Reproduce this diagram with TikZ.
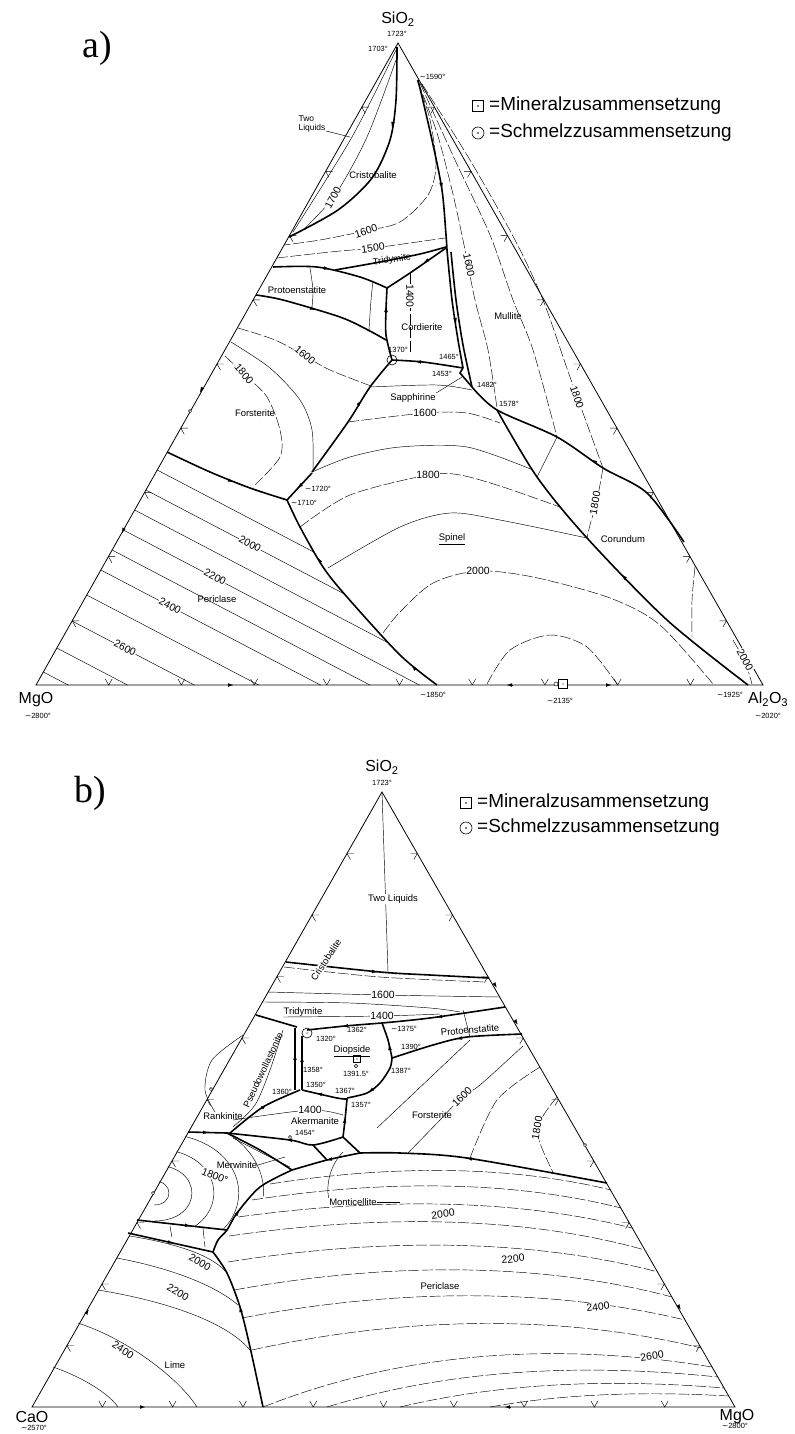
\documentclass[tikz,border=0pt]{standalone}
\usepackage{fontspec}
\setmainfont{Liberation Sans}
\newfontfamily\dejavu{DejaVu Sans}
\newfontfamily\timesf{Liberation Serif}
\usetikzlibrary{arrows.meta}
\newcommand{\ap}{{\dejavu\char"223C}}
% small arrowhead laid along a boundary line
\newcommand{\fallarr}[2]{\draw[line width=0.1bp, -{Latex[length=5bp,width=3.4bp]}] #1 -- #2;}

\tikzset{
  side/.style={line width=0.8bp},
  bnd/.style={line width=1.6bp},
  iso/.style={line width=0.45bp},
  isod/.style={iso, dash pattern=on 11bp off 2.5bp},
  tickmk/.style={line width=0.45bp},
  lbl/.style={font=\fontsize{9.5}{10}\selectfont, inner sep=0.5bp},
  tmp/.style={font=\fontsize{7.5}{8}\selectfont, inner sep=0.3bp},
  isolbl/.style={font=\fontsize{10.5}{11}\selectfont, fill=white, inner sep=0.6bp},
  cmp/.style={font=\fontsize{16}{17}\selectfont, inner sep=0bp},
  leg/.style={font=\fontsize{19}{20}\selectfont, inner sep=0bp, anchor=west},
  part/.style={font=\timesf\fontsize{38}{38}\selectfont, inner sep=0bp},
  mineral/.style={draw, line width=0.6bp, fill=white, minimum size=11bp, inner sep=0bp},
  melt/.style={draw, circle, line width=0.6bp, minimum size=12bp, inner sep=0bp},
}

\begin{document}
\begin{tikzpicture}[x=1bp,y=-1bp]
\path[use as bounding box, fill=white] (0,0) rectangle (794,1434);

%%%%%%%%%%%%%%%%%%%%%%%% a) MgO - Al2O3 - SiO2
\coordinate (aS) at (398,43);
\coordinate (aM) at (36,685);
\coordinate (aA) at (763,685);
\draw[side] (aM) -- (aS) -- (aA) -- cycle;
\foreach \i in {1,...,9}{
\draw[tickmk] ({36+72.7*\i},685) ++(-3.5,-6.1) -- ++(3.5,6.1) -- ++(3.5,-6.1);
\draw[tickmk] ({36+36.2*\i},{685-64.2*\i}) ++(7,0) -- ++(-7,0) -- ++(3.5,6.1);
\draw[tickmk] ({763-36.5*\i},{685-64.2*\i}) ++(-7,0) -- ++(7,0) -- ++(-3.5,6.1);
}
\fallarr{(228,685)}{(233,685)}
\fallarr{(512,685)}{(507,685)}
\fallarr{(606,685)}{(611,685)}
\fallarr{(203,387)}{(200,392)}
\fallarr{(124,528)}{(122,533)}

% two liquids and cristobalite
\draw[iso] plot[smooth] coordinates {(396,50) (352,137) (293,232)};
\draw[iso] plot[smooth] coordinates {(396,60) (367,137) (335,195) (303,230)};
\draw[bnd] plot[smooth] coordinates {(397,47) (396,100) (390,140) (372,178) (338,210) (289,237)};
\fallarr{(393,122)}{(392,127)}
\draw[isod] plot[smooth] coordinates {(417,80) (430,120) (436,165) (428,195) (400,222) (365,231) (320,240) (284,245)};
\draw[isod] plot[smooth] coordinates {(277,258) (330,252) (373,248) (410,243) (445,238)};
\draw[bnd] plot[smooth] coordinates {(418,80) (432,140) (442,190) (446,235) (447,250)};
\fallarr{(441,183)}{(442,188)}

% tridymite, protoenstatite, cordierite
\draw[bnd] plot[smooth] coordinates {(273,267) (317,267) (360,277) (387,288)};
\fallarr{(324,268)}{(329,269)}
\draw[bnd] plot[smooth] coordinates {(335,270) (380,262) (420,254) (446,247)};
\draw[bnd] plot[smooth] coordinates {(446,248) (410,273) (387,288)};
\fallarr{(428,260)}{(424,262.5)}
\draw[bnd] plot[smooth] coordinates {(392,360) (386,335) (386,310) (387,288)};
\fallarr{(386,312)}{(386,307)}
\draw[bnd] plot[smooth] coordinates {(256,295) (283,300) (340,317) (368,330) (386,340)};
\fallarr{(310,308)}{(315,310)}
\draw[iso] plot[smooth] coordinates {(310,268) (313,290) (312,307)};
\draw[iso] plot[smooth] coordinates {(373,281) (371,300) (369,330)};
\draw[isod] (410,273) -- (410,353);
\draw[bnd] plot[smooth] coordinates {(447,250) (452,300) (458,340) (463,368)};
\fallarr{(455,318)}{(456,323)}
\draw[bnd] plot[smooth] coordinates {(451,252) (456,300) (463,345) (472,387)};
\draw[bnd] plot[smooth] coordinates {(392,360) (423,362) (463,368)};
\fallarr{(421,362)}{(416,361.6)}
\draw[bnd] (463,368) -- (460,373) -- (472,387);

% forsterite, spinel, periclase boundaries
\draw[bnd] plot[smooth] coordinates {(392,360) (370,387) (348,422) (312,472)};
\fallarr{(358,405)}{(361,401)}
\draw[bnd] (312,473) -- (287,500);
\fallarr{(301,485)}{(298,488)}
\draw[bnd] plot[smooth] coordinates {(167,452) (210,472) (250,488) (287,500)};
\fallarr{(228,480)}{(233,482)}
\draw[bnd] plot[smooth] coordinates {(287,500) (300,527) (323,567) (347,597) (400,655) (437,685)};
\fallarr{(321,563)}{(318,558)}
\fallarr{(416,670)}{(412,666)}
\draw[bnd] plot[smooth] coordinates {(472,387) (497,410) (557,437) (603,468) (647,493) (684,542)};
\fallarr{(597,463)}{(592,460)}
\draw[bnd] plot[smooth] coordinates {(497,410) (537,477) (587,538) (667,620) (748,685)};
\fallarr{(627,580)}{(622,575)}

% sapphirine
\draw[iso] plot[smooth] coordinates {(370,387) (437,385) (472,390)};

% mullite isotherms
\draw[isod] plot[smooth] coordinates {(418,82) (437,133) (452,190) (463,240) (475,300) (488,350) (497,408)};
\draw[isod] plot[smooth] coordinates {(420,83) (455,160) (490,235) (513,300) (533,350) (557,437)};
\draw[isod] plot[smooth] coordinates {(422,84) (470,160) (515,240) (543,300) (570,377) (603,468)};

% corundum isotherms
\draw[isod] plot[smooth] coordinates {(603,468) (597,500) (590,525) (587,538)};
\draw[iso] (557,437) -- (537,477);
\draw[isod] plot[smooth] coordinates {(695,567) (692,600) (692,637)};
\draw[isod] plot[smooth] coordinates {(733,640) (745,662) (752,684)};

% spinel isotherms
\draw[isod] plot[smooth] coordinates {(348,422) (425,413) (467,413) (500,423)};
\draw[iso] plot[smooth] coordinates {(312,472) (350,457) (400,447) (467,447) (533,470)};
\draw[isod] plot[smooth] coordinates {(300,527) (350,495) (428,475) (460,475) (503,487) (560,507)};
\draw[iso] plot[smooth] coordinates {(328,568) (400,527) (450,513) (500,520) (587,538)};
\draw[isod] plot[smooth] coordinates {(383,633) (400,612) (433,583) (478,571) (533,577) (610,598) (660,625) (713,684)};
\draw[isod] plot[smooth] coordinates {(487,684) (510,650) (550,635) (587,647) (617,684)};

% forsterite isotherms
\draw[isod] plot[smooth] coordinates {(238,328) (275,340) (305,356) (330,370) (371,386)};
\draw[iso] plot[smooth] coordinates {(231,342) (270,368) (300,400) (312,430) (313,470)};
\draw[isod] plot[smooth] coordinates {(225,356) (245,375) (267,397) (280,430) (280,457) (253,487)};

% periclase isotherms
\begin{scope}
\clip (167,452) -- (210,472) -- (250,488) -- (287,500) -- (300,527) -- (323,567) -- (347,597) -- (400,655) -- (437,685) -- (36,685) -- cycle;
\foreach \ys in {470,490,510,530,550,570,595,621,648,672}
\draw[iso] ({398-(\ys-43)*0.5639},\ys) -- ++(420,220);
\end{scope}

% compositions on the sides
\draw[line width=0.5bp, fill=white] (190,411) circle (1.6);
\draw[line width=0.5bp, fill=white] (556,684) circle (2);
\node[mineral, minimum size=9bp] (aSpMin) at (563,684) {};
\fill (aSpMin.center) circle (0.7);
\node[melt, minimum size=10bp] (aMelt) at (392,360) {};
\fill (aMelt.center) circle (0.7);

% labels
\node[part] (aPart) at (97,48) {a)};
\node[cmp] (aSi) at (398,19) {SiO\textsubscript{2}};
\node[tmp] (aT1723) at (397,34) {1723°};
\node[tmp] (aT1703) at (378,49) {1703°};
\node[tmp, anchor=west] (aT1590) at (419,77) {\ap1590°};
\node[cmp, anchor=north] (aMg) at (36,692) {MgO};
\node[tmp, anchor=north] (aT2800) at (38,713) {\ap2800°};
\node[cmp, anchor=north west] (aAl) at (748,692) {Al\textsubscript{2}O\textsubscript{3}};
\node[tmp, anchor=north] (aT2020) at (768,713) {\ap2020°};
\node[tmp] (aT1925) at (730,695) {\ap1925°};
\node[tmp] (aT1850) at (433,695) {\ap1850°};
\node[tmp] (aT2135) at (560,701) {\ap2135°};

\node[lbl, align=left, font=\fontsize{8.5}{9}\selectfont] (aTwo) at (312,124) {Two\\Liquids};
\draw[iso] (aTwo.east |- 0,131) -- (350,137);
\node[lbl] (aCri) at (373,175) {Cristobalite};
\node[lbl, rotate=8] (aTri) at (392,260) {Tridymite};
\node[lbl] (aPro) at (297,290) {Protoenstatite};
\node[lbl] (aCor) at (422,327) {Cordierite};
\node[lbl] (aMul) at (508,316) {Mullite};
\node[lbl] (aFo) at (255,413) {Forsterite};
\node[lbl] (aSap) at (413,398) {Sapphirine};
\draw[iso] (aSap.north east) -- (462,377);
\node[lbl] (aSpi) at (452,539) {\underline{Spinel}};
\node[lbl] (aCrn) at (623,539) {Corundum};
\node[lbl] (aPer) at (217,599) {Periclase};

\node[tmp] (aT1370) at (398,350) {1370°};
\node[tmp] (aT1465) at (449,357) {1465°};
\node[tmp] (aT1453) at (442,374) {1453°};
\node[tmp] (aT1482) at (487,385) {1482°};
\node[tmp] (aT1578) at (509,404) {1578°};
\node[tmp] (aT1720) at (318,489) {\ap1720°};
\node[tmp] (aT1710) at (304,503) {\ap1710°};

\node[isolbl, rotate=62] (aI1700) at (333,198) {1700};
\node[isolbl, rotate=18] (aI1600a) at (366,231) {1600};
\node[isolbl, rotate=8] (aI1500) at (373,248) {1500};
\node[isolbl, rotate=-90] (aI1400) at (410,296) {1400};
\node[isolbl, rotate=-78] (aI1600b) at (469,265) {1600};
\node[isolbl, rotate=-72] (aI1800a) at (577,397) {1800};
\node[isolbl, rotate=80] (aI1800b) at (595,503) {1800};
\node[isolbl, rotate=-62] (aI2000a) at (745,660) {2000};
\node[isolbl, rotate=-40] (aI1600c) at (305,355) {1600};
\node[isolbl, rotate=-50] (aI1800c) at (244,374) {1800};
\node[isolbl] (aI1600d) at (425,413) {1600};
\node[isolbl] (aI1800d) at (428,475) {1800};
\node[isolbl] (aI2000b) at (478,571) {2000};
\node[isolbl, rotate=-27.6] (aI2000c) at (250,544) {2000};
\node[isolbl, rotate=-27.6] (aI2200) at (215,577) {2200};
\node[isolbl, rotate=-27.6] (aI2400) at (170,606) {2400};
\node[isolbl, rotate=-27.6] (aI2600) at (125,648) {2600};

% legend
\node[mineral] (aLegMin) at (478,106) {};
\fill (aLegMin.center) circle (0.8);
\node[leg] (aLegMinT) at (489,106) {=Mineralzusammensetzung};
\node[melt] (aLegMelt) at (478,133) {};
\fill (aLegMelt.center) circle (0.8);
\node[leg] (aLegMeltT) at (489,133) {=Schmelzzusammensetzung};

%%%%%%%%%%%%%%%%%%%%%%%% b) CaO - MgO - SiO2
\coordinate (bS) at (382,792);
\coordinate (bC) at (32,1407);
\coordinate (bM) at (735,1407);
\draw[side] (bC) -- (bS) -- (bM) -- cycle;
\foreach \i in {1,...,9}{
\draw[tickmk] ({32+70.3*\i},1407) ++(-3.5,-6.1) -- ++(3.5,6.1) -- ++(3.5,-6.1);
\draw[tickmk] ({32+35*\i},{1407-61.5*\i}) ++(7,0) -- ++(-7,0) -- ++(3.5,6.1);
\draw[tickmk] ({735-35.3*\i},{1407-61.5*\i}) ++(-7,0) -- ++(7,0) -- ++(-3.5,6.1);
}
\fallarr{(140,1407)}{(145,1407)}
\fallarr{(510,1407)}{(505,1407)}
\fallarr{(86,1314)}{(88.5,1309.5)}
\fallarr{(678,1305)}{(680.5,1309.5)}
\fallarr{(494,983)}{(496.5,987.5)}
\fallarr{(515,1020)}{(517.5,1024.5)}

% two liquids, cristobalite, tridymite
\draw[iso] (bS) -- (388,972);
\draw[bnd] plot[smooth] coordinates {(286,962) (380,972) (430,975) (489,978)};
\fallarr{(372,971.5)}{(377,972)}
\draw[isod] plot[smooth] coordinates {(284,967) (380,977) (486,982)};
\draw[iso] plot[smooth] coordinates {(268,992) (383,995) (500,997)};
\draw[iso] plot[smooth] coordinates {(263,1002) (350,1003) (430,1008) (460,1012)};
\draw[iso] plot[smooth] coordinates {(283,1017) (382,1016) (440,1014)};
\draw[bnd] (256,1015) -- (297,1027);
\draw[bnd] plot[smooth] coordinates {(382,1023) (345,1026) (307,1030)};
\fallarr{(348,1025.8)}{(343,1026.2)}
\draw[bnd] plot[smooth] coordinates {(505,1007) (430,1018) (382,1023)};
\fallarr{(442,1016.5)}{(437,1017.2)}

% diopside and pseudowollastonite
\draw[bnd] (295,1028) -- (295,1090);
\draw[bnd] (302,1090) -- (302,1036);
\fallarr{(302,1062)}{(302,1057)}
\fallarr{(295,1060)}{(295,1055)}
\draw[bnd] plot[smooth] coordinates {(382,1023) (388,1040) (392,1058)};
\fallarr{(390,1050)}{(389,1045)}
\draw[bnd] plot[smooth] coordinates {(522,1034) (467,1037) (433,1045) (392,1058)};
\fallarr{(462,1038)}{(457,1039)}
\draw[bnd] plot[smooth] coordinates {(392,1058) (390,1068) (380,1083) (367,1093) (347,1098)};
\fallarr{(373,1089)}{(369,1092)}
\draw[bnd] plot[smooth] coordinates {(347,1099) (337,1098) (302,1090)};
\fallarr{(322,1094.5)}{(317,1093.4)}
\draw[bnd] plot[smooth] coordinates {(343,1137) (345,1120) (347,1099)};
\fallarr{(344.5,1123)}{(345,1118)}
\draw[bnd] plot[smooth] coordinates {(230,1133) (263,1107) (300,1090)};
\fallarr{(262,1108)}{(266,1105)}
\draw[iso] (463,1010) -- (470,1037);
\draw[iso] plot[smooth] coordinates {(243,1035) (212,1060) (205,1090) (215,1112)};
\draw[iso] plot[smooth] coordinates {(283,1030) (270,1070) (255,1105) (233,1127)};

% akermanite, rankinite, merwinite, monticellite
\draw[bnd] (188,1132) -- (227,1133);
\fallarr{(203,1132.4)}{(208,1132.5)}
\draw[bnd] plot[smooth] coordinates {(227,1133) (290,1140) (313,1145) (343,1137)};
\fallarr{(292,1140.3)}{(287,1139.8)}
\draw[iso] plot[smooth] coordinates {(233,1120) (310,1110) (343,1115)};
\draw[bnd] plot[smooth] coordinates {(227,1133) (260,1150) (292,1170)};
\draw[iso] plot[smooth] coordinates {(233,1138) (262,1153) (290,1167)};
\draw[bnd] (313,1145) -- (327,1160);
\draw[bnd] plot[smooth] coordinates {(360,1153) (327,1160) (292,1170)};
\fallarr{(332,1159)}{(327,1160)}
\draw[bnd] (343,1137) -- (360,1153);
\draw[bnd] plot[smooth] coordinates {(607,1183) (467,1158) (400,1153) (360,1153)};
\fallarr{(472,1159)}{(467,1158)}

% lime, periclase boundaries
\draw[bnd] plot[smooth] coordinates {(292,1170) (260,1187) (237,1213) (227,1230) (218,1240) (213,1252)};
\fallarr{(236,1215)}{(239,1211)}
\draw[bnd] plot[smooth] coordinates {(213,1252) (227,1273) (240,1307) (250,1347) (263,1407)};
\fallarr{(241,1312)}{(240,1307)}
\draw[bnd] (128,1233) -- (213,1252);
\fallarr{(168,1242)}{(173,1243)}
\draw[bnd] (137,1220) -- (227,1230);
\fallarr{(185,1225.3)}{(190,1225.9)}
\draw[isod] (170,1226) -- (172,1238);
\draw[isod] (203,1228) -- (205,1247);

% forsterite isotherms
\draw[iso] (377,1128) -- (470,1040);
\draw[iso] plot[smooth] coordinates {(408,1153) (440,1120) (462,1097) (480,1085) (523,1046)};
\draw[isod] plot[smooth] coordinates {(540,1067) (497,1100) (470,1158)};
\draw[isod] plot[smooth] coordinates {(557,1097) (537,1130) (553,1172)};

% dicalcium silicate isotherms
\begin{scope}
\clip (188,1132) -- (227,1133) -- (292,1170) -- (227,1230) -- (137,1220) -- cycle;
\foreach \w/\h in {15/12, 38/28, 60/44, 85/60, 110/78, 140/98}
\draw[iso] (154,{1193-\h}) .. controls ({154+1.33*\w},{1193-\h}) and ({154+1.33*\w},{1193+\h}) .. (154,{1193+\h});
\end{scope}

% periclase isotherms
\foreach \sx/\sy/\ex/\ey/\cy in {270/1184/611/1190/1165, 252/1200/621/1208/1180, 238/1217/632/1228/1198, 229/1236/645/1250/1215, 228/1262/658/1272/1238, 234/1290/672/1297/1262, 242/1318/685/1320/1288, 252/1350/701/1348/1315, 263/1407/712/1367/1345, 327/1407/718/1377/1365, 400/1407/724/1388/1380, 490/1407/729/1396/1392}
\draw[isod] (\sx,\sy) .. controls ({\sx+0.35*(\ex-\sx)},\cy) and ({\ex-0.3*(\ex-\sx)},\cy) .. (\ex,\ey);

% lime isotherms
\draw[iso] (130,1236) .. controls (185,1245) and (215,1258) .. (227,1273);
\draw[iso] (117,1258) .. controls (170,1268) and (215,1285) .. (238,1305);
\draw[iso] (98,1290) .. controls (160,1300) and (225,1320) .. (250,1350);
\draw[iso] (78,1323) .. controls (130,1340) and (180,1380) .. (197,1407);
\draw[iso] (53,1367) .. controls (85,1378) and (110,1395) .. (118,1407);

% compositions on the sides
\draw[line width=0.5bp, fill=white] (211,1089) circle (1.6);
\draw[line width=0.5bp, fill=white] (153,1193) circle (1.6);
\draw[line width=0.5bp, fill=white] (585,1145) circle (1.6);
\draw[line width=0.5bp, fill=white] (290,1137) circle (1.6);
\node[mineral, minimum size=7bp] (bDiMin) at (357,1059) {};
\fill (bDiMin.center) circle (0.6);
\draw[line width=0.6bp] (356,1066) circle (1.8);
\node[melt, minimum size=10bp] (bMelt) at (307,1033) {};
\fill (bMelt.center) circle (0.7);

% labels
\node[part] (bPart) at (90,793) {b)};
\node[cmp] (bSi) at (382,767) {SiO\textsubscript{2}};
\node[tmp] (bT1723) at (382,783) {1723°};
\node[cmp, anchor=north] (bCa) at (32,1411) {CaO};
\node[tmp, anchor=north] (bT2570) at (34,1425) {\ap2570°};
\node[cmp, anchor=north] (bMg) at (737,1409) {MgO};
\node[tmp, anchor=north] (bT2800) at (735,1423) {\ap2800°};

\node[lbl, fill=white] (bTwo) at (393,899) {Two Liquids};
\node[lbl, rotate=57, fill=white] (bCri) at (326,960) {Cristobalite};
\node[lbl] (bTri) at (303,1012) {Tridymite};
\node[lbl, rotate=5] (bPro) at (470,1030) {Protoenstatite};
\node[lbl] (bDi) at (352,1051) {\underline{Diopside}};
\node[lbl, rotate=65] (bPwo) at (263,1070) {Pseudowollastonite};
\node[lbl] (bRan) at (223,1116) {Rankinite};
\node[lbl] (bAk) at (315,1121) {Akermanite};
\node[lbl] (bMer) at (237,1165) {Merwinite};
\draw[iso] (bMer.east) -- (285,1157);
\node[lbl] (bMon) at (353,1202) {Monticellite};
\draw[iso] (bMon.east) -- (400,1202);
\draw[iso] (bMon.north west) .. controls (326,1185) and (330,1165) .. (343,1152);
\node[lbl] (bFo) at (432,1115) {Forsterite};
\node[lbl] (bPer) at (440,1286) {Periclase};
\node[lbl] (bLime) at (175,1365) {Lime};

\node[tmp] (bT1320) at (326,1039) {1320°};
\node[tmp] (bT1362) at (357,1030) {1362°};
\node[tmp] (bT1375) at (404,1029) {\ap1375°};
\node[tmp] (bT1390) at (411,1047) {1390°};
\node[tmp] (bT1391) at (356,1074) {1391.5°};
\node[tmp] (bT1358) at (313,1070) {1358°};
\node[tmp] (bT1350) at (316,1085) {1350°};
\node[tmp] (bT1360) at (282,1092) {1360°};
\node[tmp] (bT1367) at (345,1091) {1367°};
\node[tmp] (bT1387) at (401,1071) {1387°};
\node[tmp] (bT1357) at (361,1105) {1357°};
\node[tmp] (bT1454) at (305,1133) {1454°};

\node[isolbl] (bI1600a) at (383,995) {1600};
\node[isolbl] (bI1400a) at (382,1016) {1400};
\node[isolbl] (bI1400b) at (310,1110) {1400};
\node[isolbl, rotate=-22] (bI1800a) at (215,1176) {1800°};
\node[isolbl, rotate=45] (bI1600b) at (462,1097) {1600};
\node[isolbl, rotate=80] (bI1800b) at (537,1128) {1800};
\node[isolbl, rotate=-30] (bI2000a) at (200,1262) {2000};
\node[isolbl, rotate=-30] (bI2200a) at (178,1292) {2200};
\node[isolbl, rotate=-33] (bI2400a) at (123,1350) {2400};
\node[isolbl, rotate=8] (bI2000b) at (443,1214) {2000};
\node[isolbl, rotate=6] (bI2200b) at (513,1259) {2200};
\node[isolbl, rotate=6] (bI2400b) at (598,1307) {2400};
\node[isolbl, rotate=8] (bI2600b) at (652,1356) {2600};

% legend
\node[mineral] (bLegMin) at (466,803) {};
\fill (bLegMin.center) circle (0.8);
\node[leg] (bLegMinT) at (477,803) {=Mineralzusammensetzung};
\node[melt] (bLegMelt) at (466,828) {};
\fill (bLegMelt.center) circle (0.8);
\node[leg] (bLegMeltT) at (477,828) {=Schmelzzusammensetzung};
\end{tikzpicture}
\end{document}
